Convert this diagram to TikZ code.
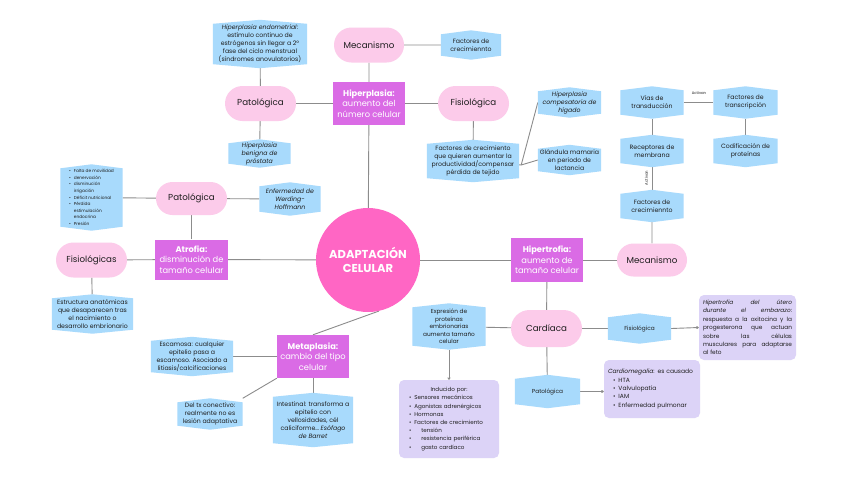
\documentclass[tikz,border=0pt]{standalone}
\usepackage{fontspec}
\setmainfont{Poppins}
\usetikzlibrary{calc,arrows.meta,shapes.misc}
\definecolor{hotpink}{HTML}{FF66C4}
\definecolor{magbox}{HTML}{DA6BE5}
\definecolor{pillpink}{HTML}{FCCBEA}
\definecolor{hexblue}{HTML}{A8DAFC}
\definecolor{lav}{HTML}{DCD3F7}
\definecolor{linegray}{HTML}{8C8C8C}
\definecolor{txt}{HTML}{1E1E1E}
\pgfdeclarelayer{paper}
\pgfdeclarelayer{lines}
\pgfdeclarelayer{bgfill}
\pgfsetlayers{paper,lines,bgfill,main}
\newcommand\hexfill[1]{\fill[hexblue] ($(#1.north west)+(0,-4pt)$) -- (#1.north) -- ($(#1.north east)+(0,-4pt)$) -- ($(#1.south east)+(0,4pt)$) -- (#1.south) -- ($(#1.south west)+(0,4pt)$) -- cycle;}
\newcommand\jline[1]{\makebox[\linewidth][l]{#1}}
\newcommand\bul{\textbullet\hspace{3pt}}
\tikzset{
  bigcirc/.style={circle, fill=hotpink, minimum size=104pt, text=white, align=center, inner sep=0pt, font=\fontsize{11.5}{14}\selectfont\bfseries},
  mag/.style={rectangle, fill=magbox, text=white, align=center, minimum width=72pt, minimum height=43pt, inner sep=1pt, font=\fontsize{8.3}{10.3}\selectfont},
  pill/.style={rounded rectangle, fill=pillpink, text=txt, minimum width=72pt, minimum height=35pt, inner sep=1pt, font=\fontsize{8.7}{10}\selectfont},
  hex/.style={rectangle, align=center, inner sep=1pt, text=txt, font=\fontsize{6.2}{8}\selectfont},
  lavbox/.style={rectangle, rounded corners=5pt, fill=lav, text=txt, inner sep=4pt, align=left},
  conn/.style={draw=linegray, line width=0.9pt},
  arr/.style={conn, -{To[length=2.5pt,width=3pt]}},
  tiny/.style={inner sep=0pt, text=txt, font=\fontsize{3.8}{4}\selectfont}
}
\begin{document}
\begin{tikzpicture}[x=1pt,y=-1pt]
\begin{pgfonlayer}{paper}
\fill[white] (0,0) rectangle (848,477);
\end{pgfonlayer}
\useasboundingbox (0,0) rectangle (848,477);

% centre
\node[bigcirc] (circ) at (368,260) {ADAPTACIÓN\\CELULAR};

% magenta boxes
\node[mag] (hip) at (369,103.5) {\textbf{Hiperplasia:}\\aumento del\\número celular};
\node[mag, minimum width=73pt, minimum height=40pt] (atr) at (191.5,259.5) {\textbf{Atrofia:}\\disminución de\\tamaño celular};
\node[mag, minimum height=44pt] (hipt) at (547,260) {\textbf{Hipertrofia:}\\aumento de\\tamaño celular};
\node[mag] (meta) at (313,356.5) {\textbf{Metaplasia:}\\cambio del tipo\\celular};

% pills
\node[pill] (mec1) at (369,45) {Mecanismo};
\node[pill, minimum width=73pt] (pat1) at (260.5,103.5) {Patológica};
\node[pill, minimum width=73pt] (fis1) at (473.5,103.5) {Fisiológica};
\node[pill, minimum width=73pt, minimum height=33pt] (pat3) at (191.5,198.5) {Patológica};
\node[pill, minimum width=73pt] (fisg) at (91.5,260) {Fisiológicas};
\node[pill, minimum height=33pt] (mec2) at (652,260) {Mecanismo};
\node[pill, minimum width=73pt, minimum height=37pt] (card) at (546.5,328.5) {Cardíaca};

% hexagon-like blue boxes
\node[hex, minimum width=94pt, minimum height=48pt] (endo) at (260,44) {\textit{Hiperplasia endometrial}:\\estímulo continuo de\\estrógenos sin llegar a 2º\\fase del ciclo menstrual\\(síndromes anovulatorios)};
\node[hex, minimum width=60pt, minimum height=29pt] (fc1) at (471,45) {Factores de\\crecimiennto};
\node[hex, minimum width=62pt, minimum height=28pt] (ben) at (259.5,153.5) {\textit{Hiperplasia}\\\textit{benigna de}\\\textit{próstata}};
\node[hex, minimum width=92pt, minimum height=42pt] (fcq) at (473,161) {Factores de crecimiento\\que quieren aumentar la\\productividad/compensar\\pérdida de tejido};
\node[hex, minimum width=63pt, minimum height=30pt] (hig) at (569.5,102.5) {\textit{Hiperplasia}\\\textit{compesatoria de}\\\textit{hígado}};
\node[hex, minimum width=63pt, minimum height=30pt] (glan) at (569.5,160) {Glándula mamaria\\en periodo de\\lactancia};
\node[hex, minimum width=63pt, minimum height=32pt] (vias) at (652,102.5) {Vías de\\transducción};
\node[hex, minimum width=64pt, minimum height=32pt] (transc) at (745.5,102.5) {Factores de\\transcripción};
\node[hex, minimum width=63pt, minimum height=32pt] (recep) at (652,151) {Receptores de\\membrana};
\node[hex, minimum width=64pt, minimum height=32pt] (codif) at (745.5,151) {Codificación de\\proteínas};
\node[hex, minimum width=63pt, minimum height=32pt] (fc2) at (652,206) {Factores de\\crecimiennto};
\node[hex, minimum width=62pt, minimum height=66pt, align=left, font=\fontsize{4.3}{6.6}\selectfont] (list) at (91.5,197.5) {\bul Falta de movilidad\\\bul denervación\\\bul disminución\\\phantom{\bul}irrigación\\\bul Déficit nutricional\\\bul Pérdida\\\phantom{\bul}estimulación\\\phantom{\bul}endocrina\\\bul Presión};
\node[hex, minimum width=61pt, minimum height=33pt] (werd) at (290,199) {\textit{Enfermedad de}\\\textit{Werding-}\\\textit{Hoffmann}};
\node[hex, minimum width=81pt, minimum height=39pt] (estr) at (92.5,314) {Estructura anatómicas\\que desaparecen tras\\el nacimiento o\\desarrollo embrionario};
\node[hex, minimum width=82pt, minimum height=39pt] (esc) at (192,356.5) {Escamosa: cualquier\\epitelio pasa a\\escamoso. Asociado a\\litiasis/calcificaciones};
\node[hex, minimum width=65pt, minimum height=31pt] (conec) at (210,414) {Del tx conectivo:\\realmente no es\\lesión adaptativa};
\node[hex, minimum width=80pt, minimum height=54pt] (intes) at (313,420) {Intestinal: transforma a\\epitelio con\\vellosidades, cél\\caliciforme… \textit{Esófago}\\\textit{de Barret}};
\node[hex, minimum width=73pt, minimum height=46pt, font=\fontsize{5.8}{7.6}\selectfont] (expr) at (449,326.5) {Expresión de\\proteínas\\embrionarias\\aumenta tamaño\\celular};
\node[hex, minimum width=63pt, minimum height=30pt, font=\fontsize{5.8}{7}\selectfont] (fis2) at (639.5,328.5) {Fisiológica};
\node[hex, minimum width=65pt, minimum height=33pt, font=\fontsize{5.8}{7}\selectfont] (pat2) at (547.5,391.5) {Patológica};

% lavender boxes
\node[lavbox, text width=89pt, minimum height=65pt, font=\fontsize{5.8}{8.4}\selectfont] (uter) at (747.5,327.5) {\jline{\textit{Hipertrofia}\hfill\textit{del}\hfill\textit{útero}}\\\jline{\textit{durante}\hfill\textit{el}\hfill\textit{embarazo}:}\\\jline{respuesta\hfill a\hfill la\hfill oxitocina\hfill y\hfill la}\\\jline{progesterona\hfill que\hfill actuan}\\\jline{sobre\hfill las\hfill células}\\\jline{musculares\hfill para\hfill adaptarse}\\al feto};
\node[lavbox, text width=88pt, minimum height=58pt, font=\fontsize{6}{8.3}\selectfont] (cmeg) at (652,389) {\textit{Cardiomegalia}: es causado\\\hspace*{5pt}\bul HTA\\\hspace*{5pt}\bul Valvulopatía\\\hspace*{5pt}\bul IAM\\\hspace*{5pt}\bul Enfermedad pulmonar};
\node[lavbox, text width=92pt, minimum height=78pt, font=\fontsize{5.6}{8.2}\selectfont] (ind) at (449,419) {\makebox[\linewidth][c]{Inducido por:}\\\hspace*{6pt}\bul Sensores mecánicos\\\hspace*{6pt}\bul Agonistas adrenérgicos\\\hspace*{6pt}\bul Hormonas\\\hspace*{6pt}\bul Factores de crecimiento\\\hspace*{6pt}\textbullet\hspace{10pt}tensión\\\hspace*{6pt}\textbullet\hspace{10pt}resistencia periférica\\\hspace*{6pt}\textbullet\hspace{10pt}gasto cardíaco};

% tiny labels
\node[tiny] (act1) at (699,93) {Activan};
\node[tiny, rotate=90] (act2) at (646.5,178) {Activan};

\coordinate (j) at ($(fcq.east)+(2pt,-4pt)$);

\begin{pgfonlayer}{bgfill}
\foreach \n in {endo,fc1,ben,fcq,hig,glan,vias,transc,recep,codif,fc2,list,werd,estr,esc,conec,intes,expr,fis2,pat2}{\hexfill{\n}}
\end{pgfonlayer}

\begin{pgfonlayer}{lines}
% hiperplasia
\draw[conn] (hip) -- (mec1);
\draw[conn] (mec1) -- (fc1);
\draw[conn] (hip) -- (pat1);
\draw[conn] (hip) -- (fis1);
\draw[conn] (hip) -- (circ);
\draw[conn] (pat1) -- (endo);
\draw[conn] (pat1) -- (ben);
\draw[conn] (fis1) -- (fcq);
\draw[conn] (fcq) -- (j);
\draw[conn] (j) -- (hig.west);
\draw[conn] (j) -- (glan.west);
% atrofia
\draw[conn] (circ) -- (atr);
\draw[conn] (atr) -- (pat3);
\draw[conn] (atr) -- (fisg);
\draw[conn] (pat3) -- (list);
\draw[conn] (pat3) -- (werd);
\draw[conn] (fisg) -- (estr);
% hipertrofia
\draw[conn] (circ) -- (hipt);
\draw[conn] (hipt) -- (mec2);
\draw[conn] (mec2) -- (fc2);
\draw[conn] (fc2) -- (recep);
\draw[conn] (recep) -- (vias);
\draw[conn] (vias) -- (transc);
\draw[conn] (transc) -- (codif);
\draw[conn] (hipt) -- (card);
\draw[conn] (card) -- (expr);
\draw[conn] (card) -- (fis2);
\draw[conn] (card) -- (pat2);
\draw[arr] (fis2.east) -- (uter.west);
\draw[arr] (pat2.east) -- (pat2.east -| cmeg.west);
\draw[arr] (expr.south) -- (ind.north);
% metaplasia
\draw[conn] (circ.282) -- (meta.north);
\draw[conn] (meta) -- (esc);
\draw[conn] (meta.south west) -- (conec.north east);
\draw[conn] (meta) -- (intes);
\end{pgfonlayer}
\end{tikzpicture}
\end{document}
